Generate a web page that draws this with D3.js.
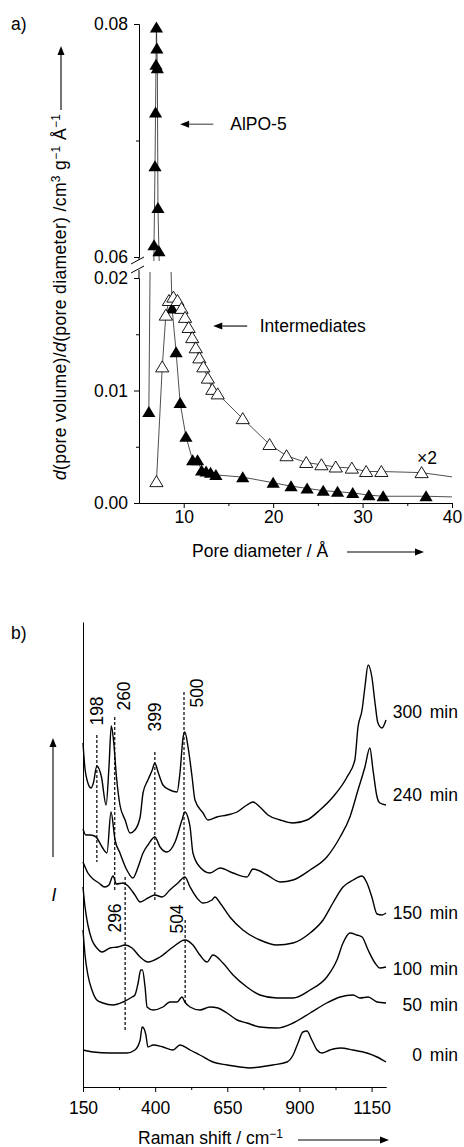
<!DOCTYPE html>
<html>
<head>
<meta charset="utf-8">
<script src="https://d3js.org/d3.v7.min.js"></script>
<style>
  body { margin: 0; background: #fff; }
  svg text { font-family: "Liberation Sans", Arial, Helvetica, sans-serif; font-size: 17.5px; fill: #000; }
  .axis path, .axis line { stroke: #000; stroke-width: 1; }
</style>
</head>
<body>
<svg id="fig" width="464" height="1147"></svg>
<script>
// ---------- a) pore size distribution: [pore diameter / Å, dV/dD]
var psdAlpo = [
  [6.1, 0.0081], [6.68, 0.0610], [6.79, 0.0678], [6.85, 0.0724], [6.9, 0.0765],
  [6.95, 0.0797], [7.0, 0.0779], [7.05, 0.0762], [7.12, 0.0642], [7.23, 0.0605],
  [8.7, 0.0173], [9.15, 0.0134], [9.6, 0.0089], [10.25, 0.0059], [11.0, 0.0038],
  [11.55, 0.0038], [12.0, 0.0029], [12.5, 0.0028], [13.0, 0.0027], [13.6, 0.0025],
  [16.6, 0.0023], [20.0, 0.0018], [22.0, 0.0015], [23.8, 0.0013], [25.6, 0.0011],
  [27.2, 0.0010], [28.9, 0.0009], [30.7, 0.0007], [32.3, 0.0006], [37.1, 0.0006], [42, 0.0005]
];
// intermediates, plotted x2
var psdInter = [
  [6.95, 0.0019], [7.6, 0.0121], [8.0, 0.0167], [8.35, 0.0180], [8.85, 0.0183], [9.3, 0.0180],
  [9.75, 0.0173], [10.15, 0.0165], [10.55, 0.0156], [10.95, 0.0147], [11.35, 0.0138],
  [11.75, 0.0129], [12.2, 0.0121], [12.7, 0.0111], [13.2, 0.0101], [13.8, 0.0097],
  [16.6, 0.0075], [19.6, 0.0052], [21.5, 0.0042], [23.7, 0.0036], [25.4, 0.0034],
  [27.0, 0.0032], [28.8, 0.0031], [30.4, 0.0028], [32.1, 0.0028], [36.6, 0.0027], [42, 0.0021]
];
var poreTicks = [10, 20, 30, 40];
var poreMinor = [15, 25, 35];
var psdTicksTop = [0.06, 0.08];
var psdTicksBot = [0.00, 0.01, 0.02];

// ---------- b) Raman spectra: [shift / cm-1, intensity (offset, a.u.)]
var spec300 = [
  [150,344],[157,318],[164,307],[178,299],[186,304],[198,321],[214,310],[230,282],[240,320],[248,361],
  [256,346],[266,310],[278,282],[296,267],[313,254],[330,257],[348,270],[358,294],[375,307],[390,317],
  [399,324],[410,315],[427,302],[451,297],[476,295],[486,314],[497,350],[503,355],[514,340],[528,310],
  [538,287],[566,274],[583,267],[614,270],[649,272],[684,275],[718,282],[739,285],[763,280],[791,272],
  [833,267],[878,264],[926,267],[971,277],[1016,290],[1065,310],[1092,327],[1103,360],[1117,377],
  [1127,400],[1138,422],[1151,410],[1162,384],[1172,364],[1186,359],[1200,367]
];
var spec240 = [
  [150,258],[160,252],[174,252],[190,251],[198,249],[216,240],[233,234],[247,275],[261,247],[278,234],
  [302,217],[323,209],[341,220],[358,234],[375,242],[399,250],[417,240],[441,235],[469,245],[493,267],
  [503,275],[521,260],[531,234],[555,220],[590,214],[625,219],[670,214],[718,210],[739,218],[788,212],
  [833,205],[878,207],[937,217],[995,230],[1041,250],[1075,270],[1103,297],[1127,320],[1144,339],
  [1155,317],[1169,290],[1179,284],[1200,282]
];
var spec150 = [
  [150,225],[167,214],[185,208],[205,204],[225,200],[240,202],[254,211],[266,203],[289,204],[306,201],
  [330,192],[348,185],[375,189],[399,192],[424,190],[451,197],[479,204],[503,210],[521,200],[545,189],
  [566,184],[597,187],[607,190],[625,184],[659,170],[704,157],[763,147],[822,142],[878,144],[937,154],
  [982,167],[1016,184],[1051,200],[1086,207],[1117,211],[1134,204],[1151,190],[1169,173],[1186,172],[1200,174]
];
var spec100 = [
  [150,200],[157,180],[167,162],[181,147],[198,139],[216,135],[244,139],[271,140],[296,142],[320,139],
  [348,130],[375,125],[417,130],[462,140],[503,147],[531,142],[555,132],[580,125],[600,132],[635,124],
  [670,112],[718,100],[763,92],[822,89],[878,89],[937,97],[995,110],[1030,127],[1051,144],[1075,154],
  [1099,152],[1117,150],[1138,137],[1162,124],[1179,119],[1200,120]
];
var spec50 = [
  [150,157],[157,132],[167,112],[181,97],[198,87],[219,84],[254,82],[289,85],[320,90],[330,92],
  [341,104],[350,117],[356,117],[365,100],[372,80],[393,77],[427,80],[451,85],[476,85],[493,90],
  [503,85],[521,80],[555,77],[590,80],[618,79],[649,74],[684,67],[718,64],[763,60],[822,59],
  [878,64],[937,74],[995,84],[1041,90],[1086,92],[1110,89],[1138,90],[1169,85],[1200,84]
];
var spec0 = [
  [150,37],[185,35],[244,34],[302,34],[330,37],[348,47],[355,60],[362,58],[368,52],[375,40],
  [393,42],[427,40],[462,37],[486,42],[497,41],[521,37],[555,32],[600,25],[649,22],[694,20],
  [729,19],[763,20],[808,22],[857,25],[878,32],[895,44],[912,55],[926,56],[943,47],[961,37],
  [978,34],[1006,37],[1041,39],[1086,37],[1134,34],[1169,30],[1200,25]
];
var spectra = [spec300, spec240, spec150, spec100, spec50, spec0];
var timeLabels = ["300 min", "240 min", "150 min", "100 min", "50 min", "0 min"];
var timeLabelLevel = [375, 292, 174, 118, 82, 32];

var bandShift = [198, 260, 399, 500, 296, 504];
var bandTop = [352, 370, 335, 395, 210, 167];
var bandBottom = [225, 195, 185, 195, 57, 82];
var bandLabelLevel = [376, 391, 370, 394, 169, 168];
var bandLabelDx = [0, 9, 0, 13, -10, -8];

var ramanTicks = [150, 400, 650, 900, 1150];
var ramanMinor = [275, 525, 775, 1025];

var svg = d3.select("#fig");

function arrow(g, x1, y1, x2, y2, len, half, color) {
  var a = Math.atan2(y2 - y1, x2 - x1);
  var bx = x2 - len * Math.cos(a), by = y2 - len * Math.sin(a);
  g.append("line").attr("x1", x1).attr("y1", y1).attr("x2", bx).attr("y2", by)
    .attr("stroke", color || "#000").attr("stroke-width", 1.1);
  var px = -Math.sin(a) * half, py = Math.cos(a) * half;
  g.append("path")
    .attr("d", "M" + x2 + "," + y2 + "L" + (bx + px) + "," + (by + py) + "L" + (bx - px) + "," + (by - py) + "Z")
    .attr("fill", "#000");
}

// ================= panel a =================
var xA = d3.scaleLinear().domain([5, 40]).range([139, 452]);
var yTop = d3.scaleLinear().domain([0.06, 0.08]).range([257, 24]);
var yBot = d3.scaleLinear().domain([0, 0.02]).range([503, 278]);

var defs = svg.append("defs");
defs.append("clipPath").attr("id", "clipTop").append("rect")
  .attr("x", 130).attr("y", 14).attr("width", 322).attr("height", 247);
defs.append("clipPath").attr("id", "clipBot").append("rect")
  .attr("x", 130).attr("y", 272).attr("width", 322).attr("height", 240);

var tri = "M0,-6L6.6,5L-6.6,5Z";

function drawSegment(yScale, clipId) {
  var g = svg.append("g").attr("clip-path", "url(#" + clipId + ")");
  var line = d3.line().x(function(d) { return xA(d[0]); }).y(function(d) { return yScale(d[1]); });

  g.append("path").datum(psdAlpo).attr("d", line)
    .attr("fill", "none").attr("stroke", "#222").attr("stroke-width", 0.8);
  g.selectAll(".fm").data(psdAlpo).enter().append("path")
    .attr("d", tri)
    .attr("transform", function(d) { return "translate(" + xA(d[0]) + "," + yScale(d[1]) + ")"; })
    .attr("fill", "#000");

  g.append("path").datum(psdInter).attr("d", line)
    .attr("fill", "none").attr("stroke", "#222").attr("stroke-width", 0.8);
  g.selectAll(".om").data(psdInter).enter().append("path")
    .attr("d", tri)
    .attr("transform", function(d) { return "translate(" + xA(d[0]) + "," + yScale(d[1]) + ")"; })
    .attr("fill", "#fff").attr("stroke", "#000").attr("stroke-width", 0.9);
}
drawSegment(yBot, "clipBot");
drawSegment(yTop, "clipTop");

var fmt2 = d3.format(".2f");
svg.append("g").attr("class", "axis")
  .attr("transform", "translate(139,0)")
  .call(d3.axisLeft(yTop).tickValues(psdTicksTop).tickFormat(fmt2).tickSize(5).tickPadding(6).tickSizeOuter(0));
svg.append("g").attr("class", "axis")
  .attr("transform", "translate(139,0)")
  .call(d3.axisLeft(yTop).tickValues([0.07]).tickFormat("").tickSize(3).tickSizeOuter(0));
svg.append("g").attr("class", "axis")
  .attr("transform", "translate(139,0)")
  .call(d3.axisLeft(yBot).tickValues(psdTicksBot).tickFormat(fmt2).tickSize(5).tickPadding(6).tickSizeOuter(0));
svg.append("g").attr("class", "axis")
  .attr("transform", "translate(139,0)")
  .call(d3.axisLeft(yBot).tickValues([0.005, 0.015]).tickFormat("").tickSize(3).tickSizeOuter(0));
svg.append("g").attr("class", "axis")
  .attr("transform", "translate(0,503)")
  .call(d3.axisBottom(xA).tickValues(poreTicks).tickSize(5).tickPadding(3).tickSizeOuter(0));
svg.append("g").attr("class", "axis")
  .attr("transform", "translate(0,503)")
  .call(d3.axisBottom(xA).tickValues(poreMinor).tickFormat("").tickSize(3).tickSizeOuter(0));

// axis break
var brk = svg.append("g").attr("stroke", "#000").attr("stroke-width", 1);
brk.append("line").attr("x1", 139).attr("y1", 257).attr("x2", 139).attr("y2", 260);
brk.append("line").attr("x1", 139).attr("y1", 270).attr("x2", 139).attr("y2", 278);
brk.append("line").attr("x1", 131).attr("y1", 264).attr("x2", 144).attr("y2", 257);
brk.append("line").attr("x1", 131).attr("y1", 273).attr("x2", 144).attr("y2", 266);

svg.append("text").attr("x", 11).attr("y", 30).text("a)");

// y label of a
var yl = svg.append("text")
  .attr("transform", "translate(66,114) rotate(-90)")
  .attr("text-anchor", "end")
  .attr("textLength", 366).attr("lengthAdjust", "spacing");
yl.append("tspan").attr("font-style", "italic").text("d");
yl.append("tspan").text("(pore volume)/");
yl.append("tspan").attr("font-style", "italic").text("d");
yl.append("tspan").text("(pore diameter) /cm");
yl.append("tspan").attr("dy", -6).style("font-size", "12px").text("3");
yl.append("tspan").attr("dy", 6).text(" g");
yl.append("tspan").attr("dy", -6).style("font-size", "12px").text("\u22121");
yl.append("tspan").attr("dy", 6).text(" \u00c5");
yl.append("tspan").attr("dy", -6).style("font-size", "12px").text("\u22121");
var ga = svg.append("g");
arrow(ga, 61, 110, 61, 46, 9, 3.5);

svg.append("text").attr("x", 192).attr("y", 557).text("Pore diameter / \u00c5");
arrow(ga, 347, 552, 424, 552, 9, 3.5);

// annotations
var yAl = yTop(0.0714);
arrow(ga, xA(13.3), yAl, xA(9.6), yAl, 9, 3.5, "#444");
svg.append("text").attr("x", xA(15.2)).attr("y", yAl).attr("dy", "0.35em").text("AlPO-5");
var yIn = yBot(0.01573);
arrow(ga, xA(17.1), yIn, xA(13.3), yIn, 9, 3.5, "#000");
svg.append("text").attr("x", xA(18.5)).attr("y", yIn).attr("dy", "0.35em").text("Intermediates");
svg.append("text").attr("x", xA(36.1)).attr("y", yBot(0.0040)).attr("dy", "0.35em").text("\u00d72");

// ================= panel b =================
var xB = d3.scaleLinear().domain([150, 1200]).range([83, 386]);
var yB = d3.scaleLinear().domain([0, 465]).range([1087, 622]);

svg.append("text").attr("x", 11).attr("y", 639).text("b)");

var specLine = d3.line()
  .x(function(d) { return xB(d[0]); })
  .y(function(d) { return yB(d[1]); })
  .curve(d3.curveMonotoneX);

svg.append("g").selectAll("path").data(spectra).enter().append("path")
  .attr("d", specLine)
  .attr("fill", "none").attr("stroke", "#000").attr("stroke-width", 1.4)
  .attr("stroke-linejoin", "round");

// dashed band markers
var bands = svg.append("g");
bandShift.forEach(function(s, i) {
  bands.append("line")
    .attr("x1", xB(s)).attr("x2", xB(s))
    .attr("y1", yB(bandTop[i])).attr("y2", yB(bandBottom[i]))
    .attr("stroke", "#000").attr("stroke-width", 1.2).attr("stroke-dasharray", "3,2");
  bands.append("text")
    .attr("transform", "translate(" + (xB(s) + bandLabelDx[i]) + "," + yB(bandLabelLevel[i]) + ") rotate(-90)")
    .attr("text-anchor", "middle").attr("dy", "0.35em")
    .text(s);
});

svg.selectAll(".tl").data(timeLabels).enter().append("text")
  .attr("x", 458).attr("y", function(d, i) { return yB(timeLabelLevel[i]); })
  .attr("dy", "0.35em").attr("text-anchor", "end")
  .style("word-spacing", "3px")
  .text(function(d) { return d; });

svg.append("g").attr("class", "axis")
  .attr("transform", "translate(83,0)")
  .call(d3.axisLeft(yB).tickValues([]).tickSizeOuter(0));
svg.append("g").attr("class", "axis")
  .attr("transform", "translate(0,1087)")
  .call(d3.axisBottom(xB).tickValues(ramanTicks).tickFormat(d3.format("d")).tickSize(5).tickPadding(10).tickSizeOuter(0));
svg.append("g").attr("class", "axis")
  .attr("transform", "translate(0,1087)")
  .call(d3.axisBottom(xB).tickValues(ramanMinor).tickFormat("").tickSize(3).tickSizeOuter(0));

var xl = svg.append("text").attr("x", 138).attr("y", 1144);
xl.append("tspan").text("Raman shift / cm");
xl.append("tspan").attr("dy", -6).style("font-size", "12px").text("\u22121");
var gb = svg.append("g");
arrow(gb, 298, 1140, 389, 1140, 9, 3.5);

svg.append("text").attr("x", 54).attr("y", 895).attr("dy", "0.35em")
  .attr("text-anchor", "middle").attr("font-style", "italic").text("I");
arrow(gb, 53, 857, 53, 738, 9, 3.5);
</script>
</body>
</html>
